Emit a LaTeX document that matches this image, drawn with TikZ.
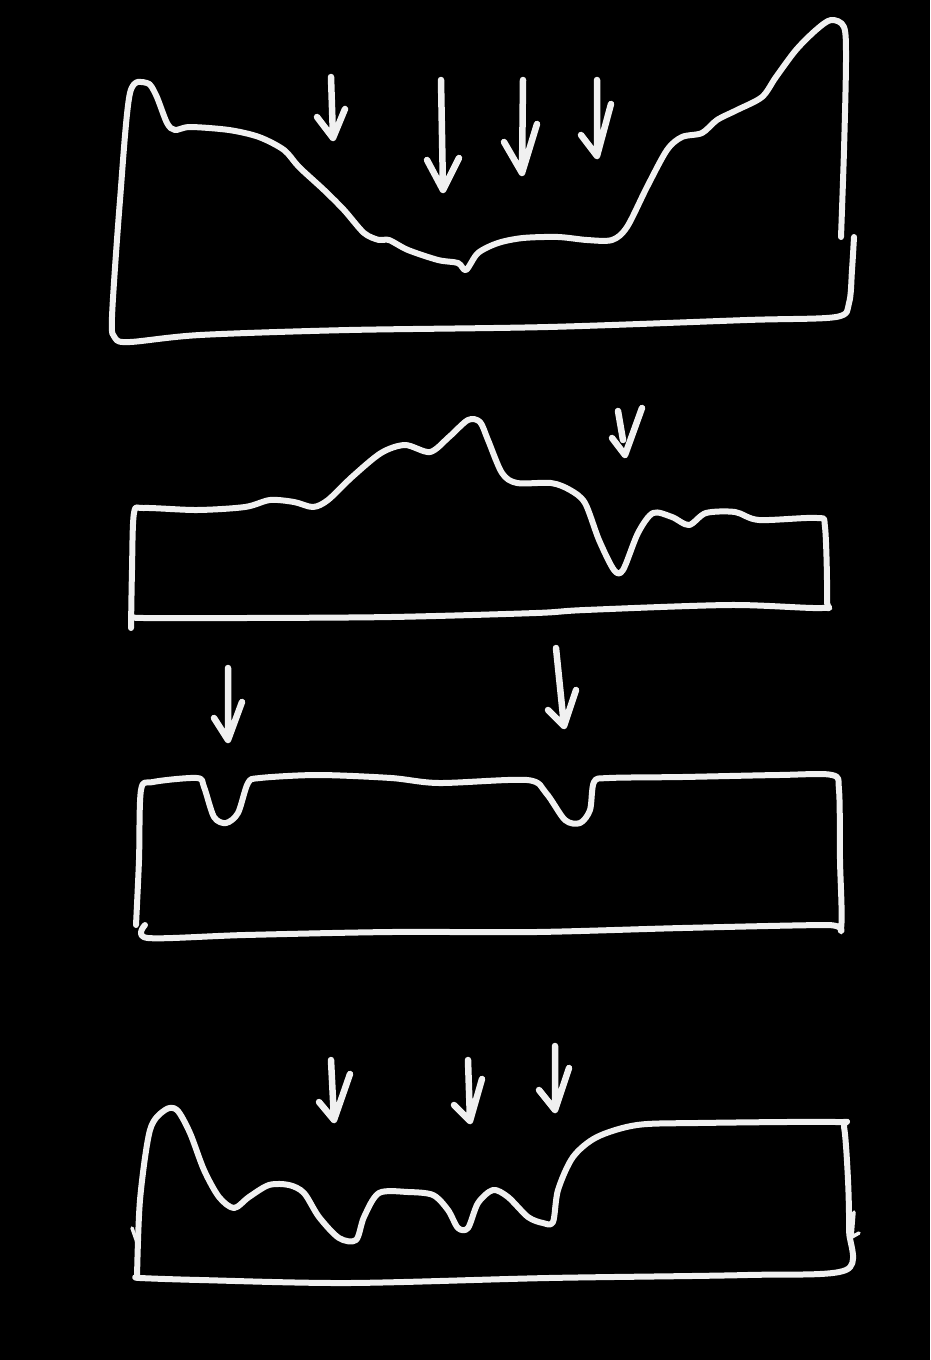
\documentclass[tikz,border=0pt]{standalone}
\begin{document}
\begin{tikzpicture}[x=1pt,y=-1pt,
  chalk/.style={draw=white!94!black, line width=6pt, line cap=round, line join=round},
  chalkarrow/.style={chalk, line width=6.5pt}]
\useasboundingbox (0,0) rectangle (930,1360);
\fill[black] (0,0) rectangle (930,1360);

% ---------- profile 1 ----------
\draw[chalk] plot[smooth, tension=0.5] coordinates {
 (854,237) (852,270) (849,303) (836,317) (747,320) (548,327) (349,330) (200,335) (130,342) (115,338) (112,317)
 (120,200) (130,93) (147,83) (156,95) (167,123) (175,130) (190,127) (229,130) (259,137) (284,150) (299,167)
 (324,190) (344,210) (364,233) (379,240) (389,240) (408,250) (438,260) (458,263) (466,270) (478,253) (498,243)
 (523,238) (558,237) (587,240) (612,240) (627,227) (647,187) (667,150) (682,137) (702,133) (717,120) (737,110)
 (762,97) (776,77) (796,50) (816,30) (831,20) (844,27) (846,60) (844,150) (841,237)};
% arrows
\draw[chalkarrow] (331,77) -- (333,138) (317,117) -- (333,138) -- (345,109);
\draw[chalkarrow] (441,80) -- (443,190) (427,160) -- (443,190) -- (459,158);
\draw[chalkarrow] (523,80) -- (522,173) (504,142) -- (522,173) -- (537,124);
\draw[chalkarrow] (597,80) -- (597,156) (581,135) -- (597,156) -- (611,104);

% ---------- profile 2 ----------
\draw[chalk] plot[smooth, tension=0.5] coordinates {
 (131,628) (132,570) (134,513) (144,508) (197,510) (245,507) (270,500) (294,502) (313,507) (328,500) (352,477)
 (381,453) (405,445) (430,452) (449,437) (468,420) (480,422) (488,440) (502,473) (517,483) (551,483) (570,490)
 (585,503) (599,540) (614,570) (623,570) (638,533) (653,513) (672,517) (689,525) (706,513) (735,512) (759,520)
 (817,518) (825,527) (827,600) (822,608) (730,605) (585,610) (536,613) (391,617) (245,618) (144,618) (133,617)};
\draw[chalkarrow] (642,408) -- (625,455) (612,438) -- (625,455) (618,411) -- (623,440);

% ---------- profile 3 ----------
\draw[chalk] plot[smooth, tension=0.5] coordinates {
 (136,925) (139,860) (141,790) (153,782) (197,778) (204,787) (214,817) (226,823) (238,813) (248,783) (260,778)
 (318,775) (391,778) (439,783) (527,780) (546,793) (565,820) (580,823) (590,810) (594,782) (609,778) (682,777)
 (779,775) (832,775) (839,790) (840,860) (841,928) (827,925) (682,928) (536,932) (391,932) (245,935) (148,938) (145,925)};
\draw[chalkarrow] (228,668) -- (228,740) (214,718) -- (228,740) -- (242,702);
\draw[chalkarrow] (556,648) -- (564,726) (548,710) -- (564,726) -- (576,690);

% ---------- profile 4 ----------
\draw[chalk] plot[smooth, tension=0.5] coordinates {
 (137,1277) (140,1200) (150,1130) (165,1110) (177,1110) (190,1133) (204,1170) (219,1197) (234,1208) (249,1197)
 (269,1185) (289,1185) (304,1193) (319,1217) (339,1238) (356,1240) (364,1217) (379,1193) (408,1192) (433,1195)
 (448,1210) (458,1228) (468,1228) (478,1203) (493,1190) (508,1197) (528,1217) (543,1223) (553,1222) (558,1190)
 (573,1157) (597,1137) (637,1125) (697,1123) (836,1122) (844,1127) (848,1180) (849,1230) (846,1270) (747,1275)
 (548,1278) (349,1283) (200,1280) (140,1278) (137,1277)};
\draw[chalk, line width=3.5pt] (132,1228) -- (139,1248);
\draw[chalk, line width=3.5pt] (854,1212) -- (852,1237) -- (859,1233);
\draw[chalkarrow] (331,1060) -- (334,1120) (319,1102) -- (334,1120) -- (350,1074);
\draw[chalkarrow] (468,1060) -- (470,1121) (454,1105) -- (470,1121) -- (482,1079);
\draw[chalkarrow] (555,1046) -- (555,1110) (539,1090) -- (555,1110) -- (569,1068);
\end{tikzpicture}
\end{document}
